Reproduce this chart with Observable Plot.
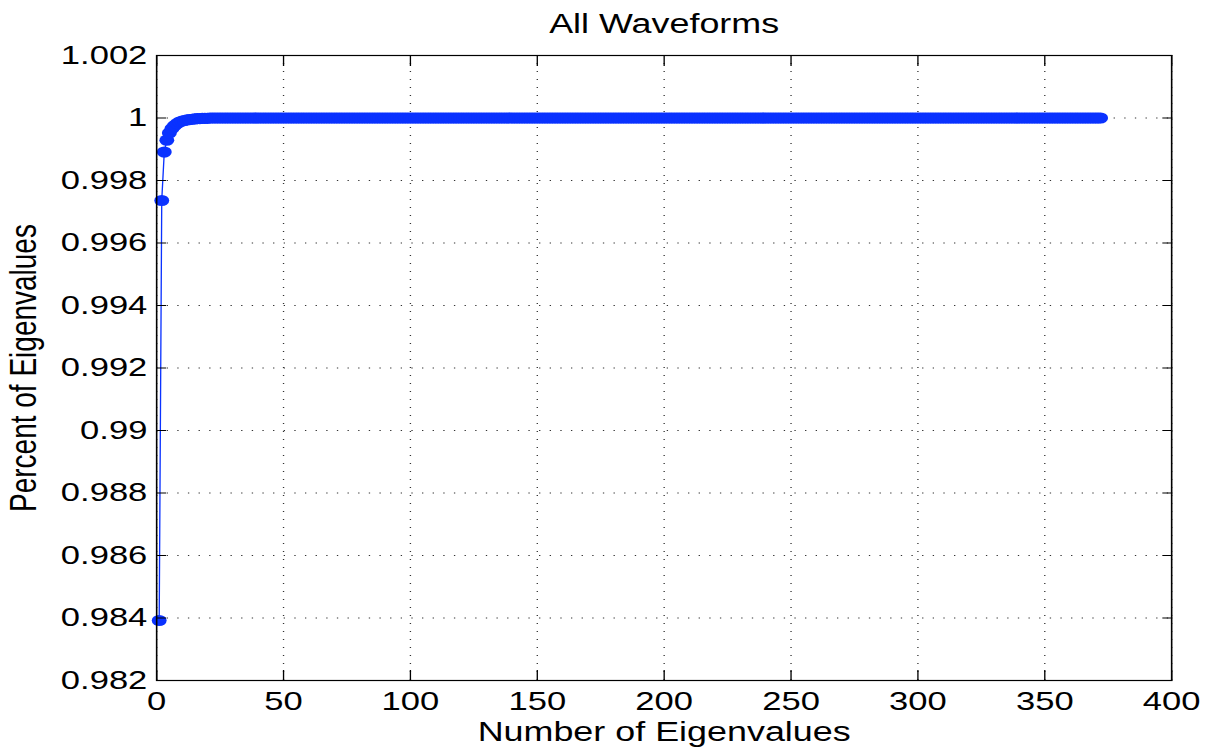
<!DOCTYPE html>
<html>
<head>
<meta charset="utf-8">
<script src="https://cdn.jsdelivr.net/npm/d3@7"></script>
<script src="https://cdn.jsdelivr.net/npm/@observablehq/plot@0.6"></script>
<style>
  html, body { margin: 0; padding: 0; background: #fff; }
  #chart svg { display: block; }
</style>
</head>
<body>
<div id="chart"></div>
<script>
// Cumulative share of the eigenvalue sum captured by the first n eigenvalues.
const leadingShare = [
  0.98392, 0.99736, 0.99891, 0.99929, 0.99952, 0.99966, 0.99975, 0.99982, 0.99987, 0.99990,
  0.99992, 0.99994, 0.99995, 0.99996, 0.99997, 0.99998, 0.99998, 0.99999, 0.99999, 0.99999
];
// Remaining eigenvalues add nothing visible: the curve sits on 1.
const tailShare = [
  1,1,1,1,1,1,1,1,1,1,1,1,1,1,1,1,1,1,1,1,1,1,1,1,1,
  1,1,1,1,1,1,1,1,1,1,1,1,1,1,1,1,1,1,1,1,1,1,1,1,1,
  1,1,1,1,1,1,1,1,1,1,1,1,1,1,1,1,1,1,1,1,1,1,1,1,1,
  1,1,1,1,1,1,1,1,1,1,1,1,1,1,1,1,1,1,1,1,1,1,1,1,1,
  1,1,1,1,1,1,1,1,1,1,1,1,1,1,1,1,1,1,1,1,1,1,1,1,1,
  1,1,1,1,1,1,1,1,1,1,1,1,1,1,1,1,1,1,1,1,1,1,1,1,1,
  1,1,1,1,1,1,1,1,1,1,1,1,1,1,1,1,1,1,1,1,1,1,1,1,1,
  1,1,1,1,1,1,1,1,1,1,1,1,1,1,1,1,1,1,1,1,1,1,1,1,1,
  1,1,1,1,1,1,1,1,1,1,1,1,1,1,1,1,1,1,1,1,1,1,1,1,1,
  1,1,1,1,1,1,1,1,1,1,1,1,1,1,1,1,1,1,1,1,1,1,1,1,1,
  1,1,1,1,1,1,1,1,1,1,1,1,1,1,1,1,1,1,1,1,1,1,1,1,1,
  1,1,1,1,1,1,1,1,1,1,1,1,1,1,1,1,1,1,1,1,1,1,1,1,1,
  1,1,1,1,1,1,1,1,1,1,1,1,1,1,1,1,1,1,1,1,1,1,1,1,1,
  1,1,1,1,1,1,1,1,1,1,1,1,1,1,1,1,1,1,1,1,1,1,1,1,1,
  1,1
];
const cumulativeShare = leadingShare.concat(tailShare);

const xTicks = [0, 50, 100, 150, 200, 250, 300, 350, 400];
const yTicks = [0.982, 0.984, 0.986, 0.988, 0.99, 0.992, 0.994, 0.996, 0.998, 1, 1.002];
const yTickLabels = ["0.982", "0.984", "0.986", "0.988", "0.99", "0.992", "0.994", "0.996", "0.998", "1", "1.002"];

const titleText = "All Waveforms";
const xLabelText = "Number of Eigenvalues";
const yLabelText = "Percent of Eigenvalues";

const points = cumulativeShare.map((share, i) => ({n: i + 1, share}));

// The figure is laid out on a narrower canvas and stretched horizontally,
// giving the wide glyphs and oval markers of the original export.
const OUT_W = 1209, OUT_H = 751;
const STRETCH = 1.33;
const W = OUT_W / STRETCH;

const blue = "#0a32ff";
const gridStyle = {stroke: "#333", strokeOpacity: 1, strokeWidth: 1, strokeDasharray: "1,7"};

const chart = Plot.plot({
  width: W,
  height: OUT_H,
  marginLeft: 156 / STRETCH,
  marginRight: (OUT_W - 1171) / STRETCH,
  marginTop: 55,
  marginBottom: 71,
  x: {domain: [0, 400]},
  y: {domain: [0.982, 1.002]},
  style: {fontFamily: "'Liberation Sans', Arial, Helvetica, sans-serif", fontSize: "26px", color: "black", background: "white", overflow: "visible"},
  marks: [
    Plot.gridX(xTicks, gridStyle),
    Plot.gridY(yTicks, gridStyle),
    Plot.line(points, {x: "n", y: "share", stroke: blue, strokeWidth: 1}),
    Plot.dot(points, {x: "n", y: "share", r: 5.6, fill: blue, stroke: null}),
    Plot.frame({stroke: "black", strokeWidth: 1.2}),
    // inward tick marks on all four sides
    Plot.axisX(xTicks, {anchor: "bottom", tickSize: -10, fill: "none", label: null}),
    Plot.axisX(xTicks, {anchor: "top", tickSize: -10, fill: "none", label: null}),
    Plot.axisY(yTicks, {anchor: "left", tickSize: -10 / STRETCH, fill: "none", label: null}),
    Plot.axisY(yTicks, {anchor: "right", tickSize: -10 / STRETCH, fill: "none", label: null}),
    // tick labels
    Plot.axisX(xTicks, {anchor: "bottom", tickSize: 0, tickPadding: 11, label: null, fontSize: 26}),
    Plot.axisY(yTicks, {anchor: "left", tickSize: 0, tickPadding: 7, label: null, fontSize: 26,
      tickFormat: (d) => yTickLabels[yTicks.indexOf(d)]}),
    // title and axis titles
    Plot.text([titleText], {frameAnchor: "top", dy: -23, lineAnchor: "bottom", fontSize: 27, fill: "black"}),
    Plot.text([xLabelText], {frameAnchor: "bottom", dy: 60, lineAnchor: "bottom", fontSize: 27, fill: "black"}),
    Plot.text([yLabelText], {frameAnchor: "left", dx: -100, rotate: -90, textAnchor: "middle", lineAnchor: "middle", fontSize: 28, fill: "black"})
  ]
});

chart.setAttribute("viewBox", `0 0 ${W} ${OUT_H}`);
chart.setAttribute("preserveAspectRatio", "none");
chart.setAttribute("width", OUT_W);
chart.setAttribute("height", OUT_H);
chart.style.width = OUT_W + "px";
chart.style.height = OUT_H + "px";
chart.style.maxWidth = "none";
document.getElementById("chart").appendChild(chart);
</script>
</body>
</html>
